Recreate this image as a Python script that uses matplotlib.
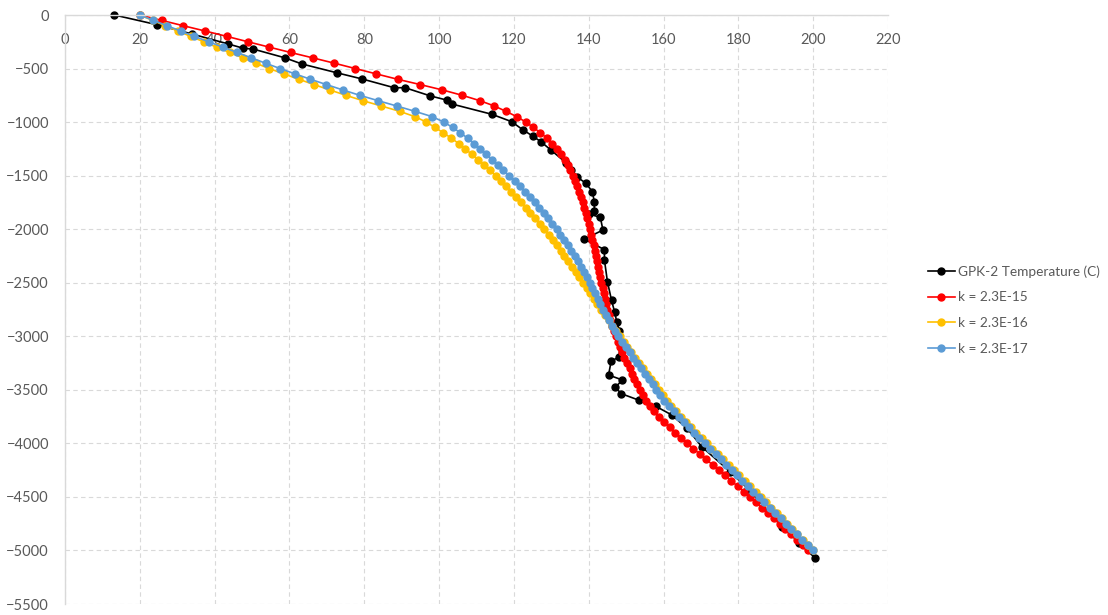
import matplotlib
matplotlib.use("Agg")
import matplotlib.pyplot as plt

plt.rcParams['font.family'] = ['Lato', 'DejaVu Sans']

# Measured well temperatures (temperature in C, depth in m, negative downwards)
gpk2_temp = [13.2, 24.5, 33.9, 43.7, 47.7, 50.3, 58.8, 63.3, 72.6, 79.5,
             88.0, 90.9, 97.7, 102.0, 103.4, 114.1, 119.4, 122.3, 125.0, 127.2,
             129.9, 133.9, 135.2, 136.9, 139.2, 141.0, 141.5, 141.5, 140.0, 143.1,
             143.8, 138.8, 144.2, 144.2, 145.0, 146.1, 146.9, 147.5, 148.2, 148.2,
             146.0, 145.3, 149.0, 147.1, 148.7, 153.5, 158.0, 162.2, 166.3, 170.2,
             177.8, 182.7, 191.6, 196.3, 200.6]
gpk2_depth = [0, -90, -177, -271, -311, -318, -400, -457, -539, -598,
              -679, -679, -756, -794, -831, -927, -996, -1070, -1130, -1183,
              -1261, -1379, -1447, -1513, -1570, -1650, -1748, -1830, -1858, -1889,
              -2008, -2093, -2191, -2288, -2490, -2665, -2770, -2866, -2948, -3193,
              -3231, -3362, -3408, -3477, -3536, -3598, -3655, -3735, -3860, -4031,
              -4265, -4429, -4778, -4927, -5075]

# Model output depths, every 50 m from surface to 5000 m
model_depth = list(range(0, -5001, -50))

temp_k15 = [20.0, 25.8, 31.6, 37.5, 43.3, 48.9, 54.6, 60.3, 66.2, 72.0,
            77.6, 83.2, 88.9, 95.0, 100.9, 106.2, 110.9, 114.8, 117.9, 120.8, 123.2,
            125.2, 127.1, 128.8, 130.3, 131.6, 132.7, 133.6, 134.4, 135.1, 135.7,
            136.3, 136.9, 137.4, 137.9, 138.4, 138.8, 139.2, 139.6, 140.0, 140.3,
            140.7, 141.0, 141.3, 141.6, 141.9, 142.2, 142.5, 142.8, 143.1, 143.4,
            143.7, 144.0, 144.3, 144.7, 145.0, 145.4, 145.8, 146.2, 146.7, 147.2,
            147.7, 148.3, 148.9, 149.5, 150.2, 150.9, 151.5, 152.2, 152.9, 153.6,
            154.4, 155.3, 156.3, 157.4, 158.7, 160.1, 161.6, 163.1, 164.7, 166.3,
            168.0, 169.7, 171.4, 173.1, 174.8, 176.4, 178.1, 179.8, 181.5, 183.1,
            184.7, 186.3, 187.9, 189.5, 191.0, 192.6, 194.2, 195.7, 197.2, 198.7]

temp_k16 = [20.0, 23.4, 26.8, 30.2, 33.6, 37.1, 40.5, 44.0, 47.5, 51.0,
            54.6, 58.5, 62.5, 66.6, 70.8, 75.1, 79.6, 84.6, 89.5, 93.6, 96.6,
            98.9, 101.1, 103.3, 105.2, 107.0, 108.7, 110.4, 112.0, 113.6, 115.1,
            116.6, 118.0, 119.3, 120.6, 121.9, 123.2, 124.4, 125.6, 126.9, 128.1,
            129.3, 130.4, 131.5, 132.5, 133.5, 134.5, 135.5, 136.5, 137.5, 138.5,
            139.5, 140.4, 141.3, 142.3, 143.3, 144.3, 145.3, 146.3, 147.3, 148.3,
            149.3, 150.3, 151.3, 152.4, 153.5, 154.6, 155.6, 156.6, 157.6, 158.7,
            159.8, 160.9, 162.1, 163.4, 164.7, 166.0, 167.4, 168.8, 170.2, 171.6,
            173.0, 174.5, 175.9, 177.4, 178.8, 180.3, 181.7, 183.1, 184.6, 186.0,
            187.4, 188.8, 190.2, 191.6, 193.0, 194.4, 195.8, 197.2, 198.6, 200.0]

temp_k17 = [20.0, 23.6, 27.3, 30.9, 34.6, 38.4, 42.2, 46.0, 49.8, 53.6,
            57.5, 61.5, 65.6, 69.9, 74.3, 78.8, 83.7, 88.7, 93.6, 98.2, 101.3,
            103.6, 105.7, 107.6, 109.4, 111.0, 112.6, 114.2, 115.7, 117.2, 118.7,
            120.2, 121.6, 123.0, 124.3, 125.6, 126.8, 128.0, 129.2, 130.3, 131.4,
            132.4, 133.4, 134.4, 135.3, 136.2, 137.1, 137.9, 138.7, 139.5, 140.3,
            141.0, 141.7, 142.4, 143.1, 143.8, 144.5, 145.3, 146.1, 147.0, 147.9,
            148.9, 149.9, 150.9, 151.9, 153.0, 154.1, 155.1, 156.1, 157.1, 158.1,
            159.1, 160.2, 161.4, 162.7, 164.0, 165.4, 166.8, 168.2, 169.6, 171.0,
            172.4, 173.9, 175.3, 176.8, 178.2, 179.7, 181.1, 182.6, 184.0, 185.5,
            186.9, 188.4, 189.8, 191.3, 192.7, 194.2, 195.6, 197.1, 198.5, 200.0]

series_labels = ["GPK-2 Temperature (C)", "k = 2.3E-15", "k = 2.3E-16", "k = 2.3E-17"]
series_colors = ["#000000", "#FF0000", "#FFC000", "#5B9BD5"]

x_ticks = list(range(0, 221, 20))
y_ticks = list(range(-5500, 1, 500))

fig = plt.figure(figsize=(11.08, 6.15), dpi=100)
ax = fig.add_axes([65 / 1108, 11 / 615, 823 / 1108, 589 / 615])

series = [(gpk2_temp, gpk2_depth), (temp_k15, model_depth),
          (temp_k16, model_depth), (temp_k17, model_depth)]
for (xs, ys), lab, col in zip(series, series_labels, series_colors):
    ax.plot(xs, ys, color=col, linewidth=1.2, marker='o', markersize=5,
            markeredgecolor=col, markerfacecolor=col, label=lab, clip_on=False)

ax.set_xlim(0, 220)
ax.set_ylim(-5500, 0)
ax.set_xticks(x_ticks)
ax.set_yticks(y_ticks)

ax.grid(True, color='#D9D9D9', linestyle=(0, (4, 3)), linewidth=0.8)
ax.set_axisbelow(True)
for side in ('bottom', 'right'):
    ax.spines[side].set_visible(False)
for side in ('left', 'top'):
    ax.spines[side].set_color('#D9D9D9')
    ax.spines[side].set_linewidth(1.0)

ax.xaxis.tick_top()
ax.tick_params(axis='x', length=0, pad=-23, labelsize=10.5, labelcolor='#595959')
ax.tick_params(axis='y', length=0, pad=11.5, labelsize=10.5, labelcolor='#595959')

fig.legend(loc='center left', bbox_to_anchor=(921 / 1108, 1 - 310 / 615),
           frameon=False, fontsize=9.8, labelcolor='#595959',
           handlelength=2.0, handletextpad=0.2, labelspacing=1.0, borderpad=0)

fig.savefig("out.png", dpi=100)
